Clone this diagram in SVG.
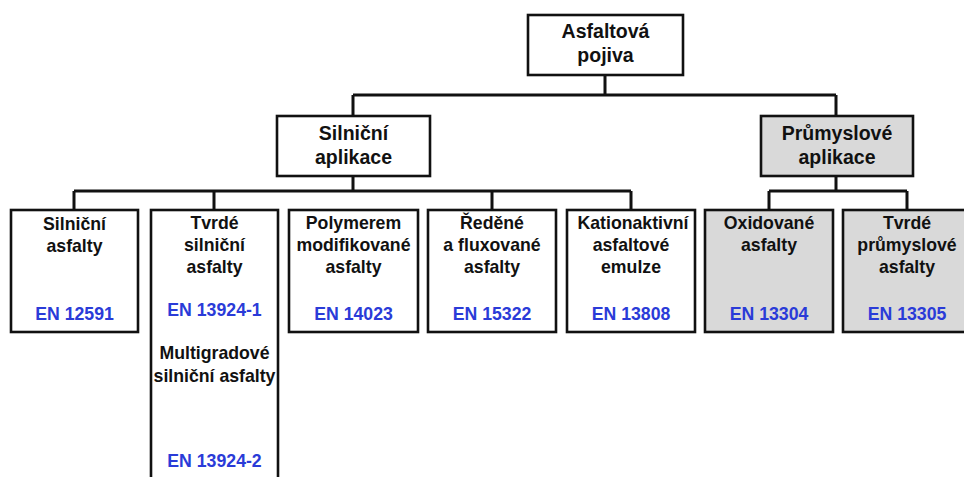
<svg xmlns="http://www.w3.org/2000/svg" width="964" height="477" viewBox="0 0 964 477">
<style>
.bx{fill:#fff;stroke:#111;stroke-width:2.6}
.gr{fill:#d9d9d9}
.t{font-family:"Liberation Sans",Arial,sans-serif;font-weight:bold;font-size:17.7px;fill:#111;text-anchor:middle}
.h{font-size:19.5px}
.en{fill:#2a3bd8}
.c{fill:none;stroke:#111;stroke-width:3}
</style>
<rect width="964" height="477" fill="#fff"/>
<g id="connectors">
<path class="c" d="M605 75V95M353 95H836M353 95V116M836 95V116"/>
<path class="c" d="M353 176V191M74 191H631M74 191V210M214 191V210M492 191V210M631 191V210"/>
<path class="c" d="M836 176V191M769 191H907M769 191V210M907 191V210"/>
</g>
<g id="n-root"><rect class="bx" x="528" y="15" width="155" height="60"/><text class="t h" x="605.5" y="38">Asfaltová</text><text class="t h" x="605.5" y="62">pojiva</text></g>
<g id="n-silnicni-aplikace"><rect class="bx" x="277" y="116" width="153" height="60"/><text class="t h" x="353.5" y="140">Silniční</text><text class="t h" x="353.5" y="164">aplikace</text></g>
<g id="n-prumyslove-aplikace"><rect class="bx gr" x="761" y="116" width="152" height="60"/><text class="t h" x="837" y="140">Průmyslové</text><text class="t h" x="837" y="164">aplikace</text></g>
<g id="n-silnicni-asfalty"><rect class="bx" x="11" y="210" width="127" height="122"/><text class="t" x="74.5" y="230">Silniční</text><text class="t" x="74.5" y="252">asfalty</text><text class="t en" x="74.5" y="320">EN 12591</text></g>
<g id="n-tvrde-silnicni"><rect class="bx" x="151" y="210" width="127" height="280"/><text class="t" x="214.5" y="229">Tvrdé</text><text class="t" x="214.5" y="251">silniční</text><text class="t" x="214.5" y="273">asfalty</text><text class="t en" x="214.5" y="316">EN 13924-1</text><text class="t" x="214.5" y="359">Multigradové</text><text class="t" x="214.5" y="382">silniční asfalty</text><text class="t en" x="214.5" y="467">EN 13924-2</text></g>
<g id="n-polymerem"><rect class="bx" x="289" y="210" width="129" height="122"/><text class="t" x="353.5" y="229">Polymerem</text><text class="t" x="353.5" y="251">modifikované</text><text class="t" x="353.5" y="273">asfalty</text><text class="t en" x="353.5" y="320">EN 14023</text></g>
<g id="n-redene"><rect class="bx" x="428" y="210" width="128" height="122"/><text class="t" x="492" y="229">Ředěné</text><text class="t" x="492" y="251">a fluxované</text><text class="t" x="492" y="273">asfalty</text><text class="t en" x="492" y="320">EN 15322</text></g>
<g id="n-kationaktivni"><rect class="bx" x="567" y="210" width="128" height="122"/><text class="t" x="633" y="229">Kationaktivní</text><text class="t" x="631" y="251">asfaltové</text><text class="t" x="631" y="273">emulze</text><text class="t en" x="631" y="320">EN 13808</text></g>
<g id="n-oxidovane"><rect class="bx gr" x="705" y="210" width="128" height="122"/><text class="t" x="769" y="229">Oxidované</text><text class="t" x="769" y="251">asfalty</text><text class="t en" x="769" y="320">EN 13304</text></g>
<g id="n-tvrde-prumyslove"><rect class="bx gr" x="843" y="210" width="128" height="122"/><text class="t" x="907" y="229">Tvrdé</text><text class="t" x="907" y="251">průmyslové</text><text class="t" x="907" y="273">asfalty</text><text class="t en" x="907" y="320">EN 13305</text></g>
</svg>
